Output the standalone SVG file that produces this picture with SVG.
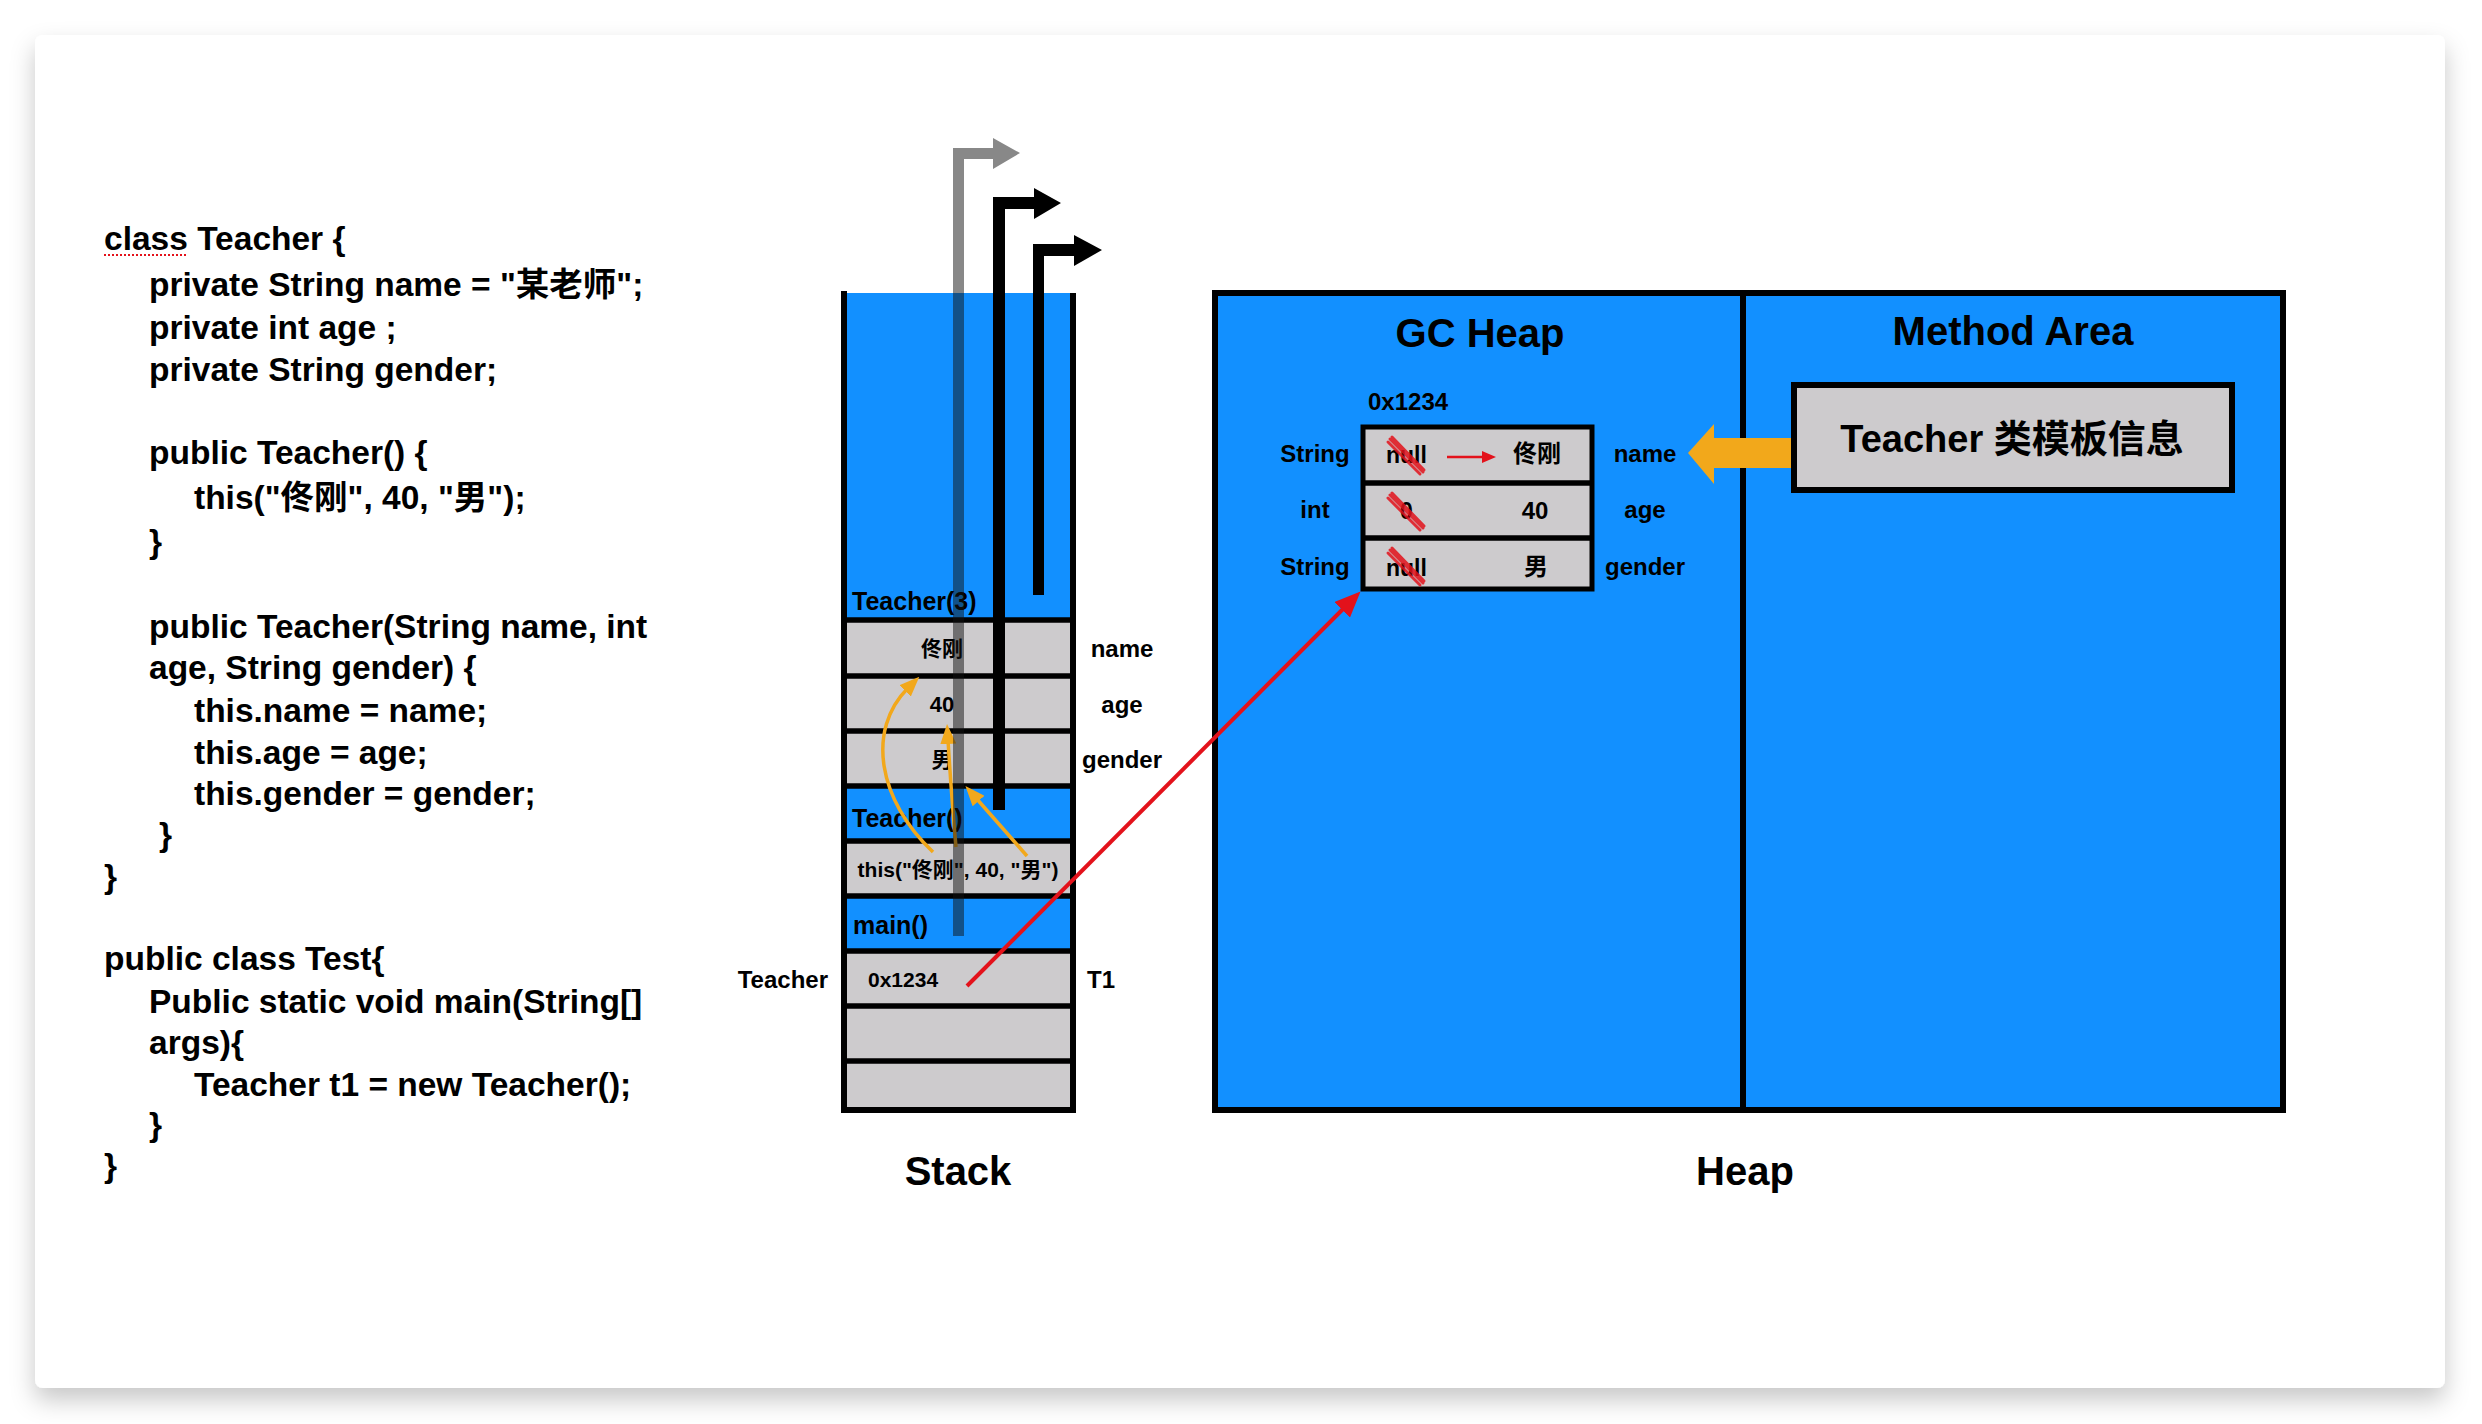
<svg xmlns="http://www.w3.org/2000/svg" width="2482" height="1424" viewBox="0 0 2482 1424">
<defs>
<style>
.t{font-family:"Liberation Sans","Noto Sans CJK SC",sans-serif;font-weight:bold;fill:#000}
.code{font-size:33.5px}
.c{text-anchor:middle;dominant-baseline:central}
.s{dominant-baseline:central}
.blue{fill:#1290FF}
.gray{fill:#CDCBCD}
.sep{stroke:#000;stroke-width:5.5}
.wall{stroke:#000;stroke-width:6;fill:none}
.org{stroke:#F2A81B;stroke-width:3.5;fill:none}
.strike{stroke:#E3121B;stroke-linecap:round;fill:none;opacity:0.85}
</style>
<filter id="sh" x="-5%" y="-5%" width="110%" height="115%">
<feDropShadow dx="0" dy="12" stdDeviation="12" flood-color="#000" flood-opacity="0.22"/>
</filter>
<marker id="mRed" markerUnits="userSpaceOnUse" markerWidth="26" markerHeight="22" refX="4" refY="11" orient="auto">
<path d="M0,0 L26,11 L0,22 z" fill="#E3121B"/>
</marker>
<marker id="mRedS" markerUnits="userSpaceOnUse" markerWidth="14" markerHeight="12" refX="2" refY="6" orient="auto">
<path d="M0,0 L14,6 L0,12 z" fill="#E3121B"/>
</marker>
<marker id="mOrg" markerUnits="userSpaceOnUse" markerWidth="20" markerHeight="16" refX="4" refY="8" orient="auto">
<path d="M0,0 L20,8 L0,16 z" fill="#F2A81B"/>
</marker>
</defs>

<rect x="0" y="0" width="2482" height="1424" fill="#FFFFFF"/>
<rect x="35" y="35" width="2410" height="1353" rx="8" fill="#FFFFFF" filter="url(#sh)"/>

<g id="code" class="t code">
<text x="104" y="250">class Teacher {</text>
<line x1="104" y1="255" x2="188" y2="255" stroke="#E3121B" stroke-width="2" stroke-dasharray="2 2"/>
<text x="149" y="296">private String name = "某老师";</text>
<text x="149" y="339">private int age ;</text>
<text x="149" y="381">private String gender;</text>
<text x="149" y="464">public Teacher() {</text>
<text x="194" y="509">this("佟刚", 40, "男");</text>
<text x="149" y="553">}</text>
<text x="149" y="638">public Teacher(String name, int</text>
<text x="149" y="679">age, String gender) {</text>
<text x="194" y="722">this.name = name;</text>
<text x="194" y="764">this.age = age;</text>
<text x="194" y="805">this.gender = gender;</text>
<text x="159" y="846">}</text>
<text x="104" y="888">}</text>
<text x="104" y="970">public class Test{</text>
<text x="149" y="1013">Public static void main(String[]</text>
<text x="149" y="1054">args){</text>
<text x="194" y="1096">Teacher t1 = new Teacher();</text>
<text x="149" y="1136">}</text>
<text x="104" y="1177">}</text>
</g>

<g id="stack">
<rect class="blue" x="844" y="293" width="229" height="327"/>
<rect class="gray" x="844" y="620" width="229" height="166"/>
<rect class="blue" x="844" y="786" width="229" height="55"/>
<rect class="gray" x="844" y="841" width="229" height="55"/>
<rect class="blue" x="844" y="896" width="229" height="55"/>
<rect class="gray" x="844" y="951" width="229" height="159"/>
<g class="sep">
<line x1="841" y1="620" x2="1076" y2="620"/>
<line x1="841" y1="676" x2="1076" y2="676"/>
<line x1="841" y1="731" x2="1076" y2="731"/>
<line x1="841" y1="786" x2="1076" y2="786"/>
<line x1="841" y1="841" x2="1076" y2="841"/>
<line x1="841" y1="896" x2="1076" y2="896"/>
<line x1="841" y1="951" x2="1076" y2="951"/>
<line x1="841" y1="1006" x2="1076" y2="1006"/>
<line x1="841" y1="1061" x2="1076" y2="1061"/>
</g>
<path class="wall" d="M844,291 L844,1110 L1073,1110 L1073,293"/>
<g class="t">
<text x="852" y="610" font-size="25">Teacher(3)</text>
<text class="c" x="942" y="648" font-size="21">佟刚</text>
<text class="c" x="942" y="704" font-size="22">40</text>
<text class="c" x="942" y="759" font-size="21">男</text>
<text x="852" y="827" font-size="25">Teacher()</text>
<text class="c" x="958" y="869" font-size="21">this("佟刚", 40, "男")</text>
<text x="853" y="934" font-size="25">main()</text>
<text class="s" x="868" y="979" font-size="21">0x1234</text>
<text class="c" x="1122" y="648" font-size="24">name</text>
<text class="c" x="1122" y="704" font-size="24">age</text>
<text class="c" x="1122" y="759" font-size="24">gender</text>
<text class="s" x="1087" y="979" font-size="24">T1</text>
<text class="s" x="828" y="979" font-size="24" text-anchor="end">Teacher</text>
<text x="958" y="1185" font-size="40" text-anchor="middle">Stack</text>
</g>
</g>

<g id="heap">
<rect class="blue" x="1215" y="293" width="1068" height="817"/>
<rect class="wall" x="1215" y="293" width="1068" height="817"/>
<line x1="1743" y1="293" x2="1743" y2="1110" stroke="#000" stroke-width="6"/>
<text class="t" x="1745" y="1185" font-size="40" text-anchor="middle">Heap</text>
</g>

<g id="gc-heap" class="t">
<text x="1480" y="347" font-size="40" text-anchor="middle">GC Heap</text>
</g>

<g id="object-0x1234">
<rect class="gray" x="1363" y="427" width="229" height="162"/>
<line class="sep" x1="1363" y1="483" x2="1592" y2="483" stroke-width="5"/>
<line class="sep" x1="1363" y1="538" x2="1592" y2="538" stroke-width="5"/>
<rect x="1363" y="427" width="229" height="162" fill="none" stroke="#000" stroke-width="5"/>
<g class="t">
<text x="1368" y="410" font-size="24">0x1234</text>
<text class="c" x="1315" y="453" font-size="24">String</text>
<text class="c" x="1315" y="509" font-size="24">int</text>
<text class="c" x="1315" y="566" font-size="24">String</text>
<text class="s" x="1386" y="455" font-size="23">null</text>
<text class="s" x="1400" y="511" font-size="23">0</text>
<text class="s" x="1386" y="568" font-size="23">null</text>
<text class="c" x="1537" y="453" font-size="24">佟刚</text>
<text class="c" x="1535" y="510" font-size="24">40</text>
<text class="c" x="1536" y="566" font-size="24">男</text>
<text class="c" x="1645" y="453" font-size="24">name</text>
<text class="c" x="1645" y="509" font-size="24">age</text>
<text class="c" x="1645" y="566" font-size="24">gender</text>
</g>
<g class="strike">
<path d="M1390,439 L1423,472 M1392,437 L1424,470 M1388,442 L1420,474" stroke-width="3"/>
<path d="M1390,495 L1423,528 M1392,493 L1424,526 M1388,498 L1420,530" stroke-width="3"/>
<path d="M1390,550 L1423,583 M1392,548 L1424,581 M1388,553 L1420,585" stroke-width="3"/>
</g>
</g>

<g id="method-area" class="t">
<text x="2013" y="345" font-size="40" text-anchor="middle">Method Area</text>
</g>

<g id="class-info">
<rect class="gray" x="1794" y="385" width="438" height="105" stroke="#000" stroke-width="6"/>
<text class="t" x="2012" y="452" font-size="38" text-anchor="middle">Teacher 类模板信息</text>
</g>

<g id="connectors">
<polygon points="1688,453 1714,424 1714,438 1791,438 1791,468 1714,468 1714,484" fill="#F2A81B"/>
<line x1="1447" y1="457" x2="1484" y2="457" stroke="#E3121B" stroke-width="2.5" marker-end="url(#mRedS)"/>
<path class="org" d="M933,852 C878,800 866,730 908,688" marker-end="url(#mOrg)"/>
<path class="org" d="M956,847 Q951,790 948,740" marker-end="url(#mOrg)"/>
<path class="org" d="M1027,856 L976,798" marker-end="url(#mOrg)"/>
<polygon points="953,936 953,148 993,148 993,138 1020,153 993,169 993,159 964,159 964,936" fill="#111" fill-opacity="0.5"/>
<polygon points="993,810 993,197 1034,197 1034,188 1061,203 1034,219 1034,209 1005,209 1005,810" fill="#000"/>
<polygon points="1033,595 1033,244 1074,244 1074,235 1102,250 1074,266 1074,256 1044,256 1044,595" fill="#000"/>
<line x1="967" y1="986" x2="1345" y2="607" stroke="#E3121B" stroke-width="4" marker-end="url(#mRed)"/>
</g>
</svg>
